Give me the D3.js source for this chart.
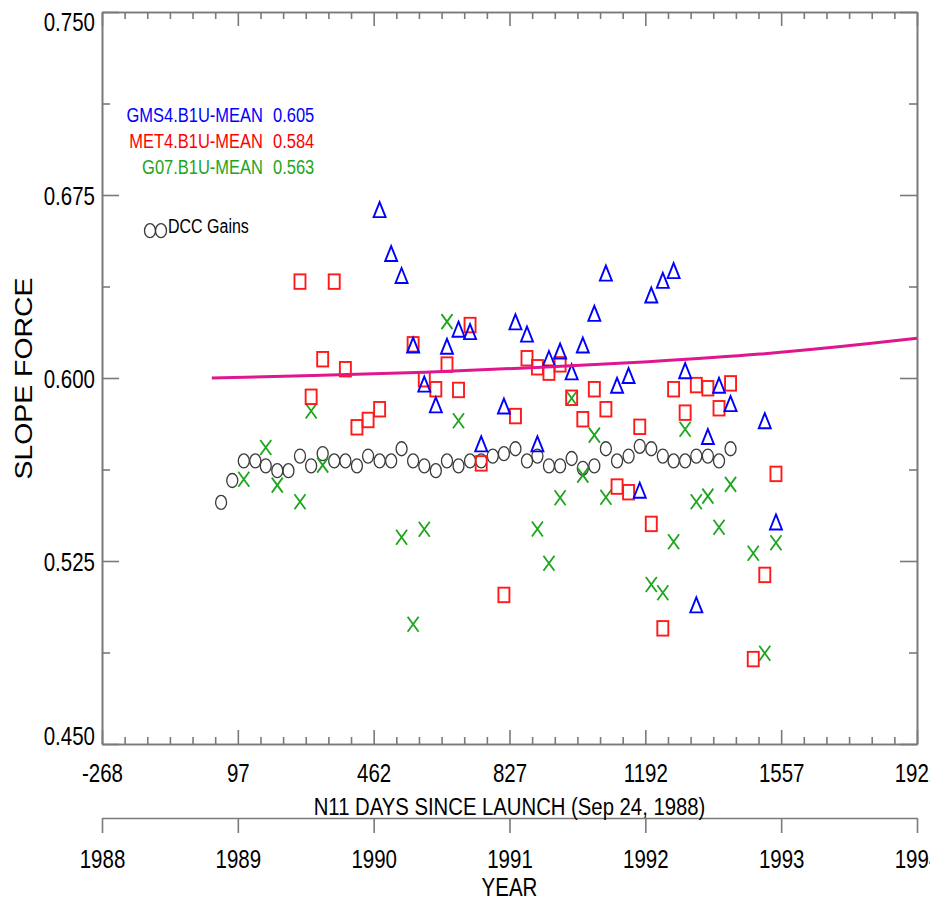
<!DOCTYPE html>
<html>
<head>
<meta charset="utf-8">
<script src="https://cdn.jsdelivr.net/npm/d3@7"></script>
<style>
  html, body { margin: 0; padding: 0; background: #fff; }
  svg { display: block; font-family: "Liberation Sans", Arial, Helvetica, sans-serif; }
</style>
</head>
<body>
<svg id="chart" width="930" height="900"></svg>
<script>
// ---- Data: days since NOAA-11 launch (Sep 24, 1988) and slope values ----
const dccDays = [52,82,113,144,172,203,233,264,294,325,356,386,417,447,478,509,537,568,598,629,
  659,690,721,751,782,812,843,874,902,933,963,994,1024,1055,1086,1116,1147,1177,1208,1239,
  1268,1299,1329,1360,1390,1421];
const dccGain = [0.549,0.558,0.566,0.566,0.564,0.562,0.562,0.568,0.564,0.569,0.566,0.566,0.564,0.568,
  0.566,0.566,0.571,0.566,0.564,0.562,0.566,0.564,0.566,0.566,0.568,0.569,0.571,0.566,0.568,0.564,
  0.564,0.567,0.563,0.564,0.571,0.566,0.568,0.572,0.571,0.568,0.566,0.566,0.568,0.568,0.566,0.571];

const gmsDays = [478,509,537,568,598,629,659,690,721,751,812,843,874,902,933,963,994,1024,1055,1086,
  1116,1147,1177,1208,1239,1268,1299,1329,1360,1390,1421,1513,1543];
const gmsSlope = [0.669,0.651,0.642,0.6135,0.5975,0.589,0.613,0.620,0.619,0.573,0.5885,0.623,0.618,
  0.573,0.608,0.611,0.6025,0.6135,0.6265,0.643,0.597,0.601,0.554,0.634,0.640,0.644,0.603,0.507,
  0.576,0.597,0.5895,0.5825,0.541];

const metDays = [264,294,325,356,386,417,447,478,568,598,629,659,690,721,751,812,843,874,902,933,
  963,994,1024,1055,1086,1116,1147,1177,1208,1239,1268,1299,1329,1360,1390,1421,1482,1513,1543];
const metSlope = [0.6395,0.5923,0.6077,0.6395,0.6036,0.5798,0.5828,0.5872,0.6138,0.5995,0.5954,
  0.6055,0.5951,0.6217,0.5650,0.5111,0.5844,0.6081,0.6044,0.6022,0.6056,0.5919,0.5831,0.5954,
  0.5872,0.5555,0.5532,0.5800,0.5402,0.4974,0.5954,0.5858,0.5971,0.5958,0.5876,0.5978,0.4848,
  0.5193,0.5607];

const g07Days = [113,172,203,264,294,325,537,568,598,659,690,902,933,963,994,1024,1055,1086,1208,
  1239,1268,1299,1329,1360,1390,1421,1482,1513,1543];
const g07Slope = [0.5585,0.5715,0.5561,0.5493,0.5865,0.5643,0.5347,0.4991,0.5380,0.6231,0.5825,
  0.5381,0.5241,0.5509,0.5917,0.5602,0.5766,0.5511,0.5154,0.5120,0.5329,0.5790,0.5493,0.5516,
  0.5388,0.5564,0.5282,0.4872,0.5325];

// Trend curve read at a few days
const trendDays = [27,300,600,900,1200,1500,1800,1922];
const trendSlope = [0.6000,0.6010,0.6024,0.6043,0.6067,0.6098,0.6142,0.6163];

// Axis ticks and labels
const dayTicks = [-268,97,462,827,1192,1557,1922];
const yearLabels = ["1988","1989","1990","1991","1992","1993","1994"];
const slopeTicks = [0.450,0.525,0.600,0.675,0.750];
const slopeMinor = [0.4875,0.5625,0.6375,0.7125];

const legendNames = ["GMS4.B1U-MEAN","MET4.B1U-MEAN","G07.B1U-MEAN"];
const legendMeans = ["0.605","0.584","0.563"];
const legendColors = ["#0000ff","#ff0000","#1ea51e"];

// ---- Layout ----
const svg = d3.select("#chart");
const L = 102, R = 917, T = 12, B = 744;
const K = 1.22;              // vertical stretch of lettering
const axisColor = "#7a7a7a";

const x = d3.scaleLinear().domain([-268, 1922]).range([L, R]);
const y = d3.scaleLinear().domain([0.45, 0.75]).range([B, T]);

const minorDays = d3.range(0, 37).map(i => -268 + i * 365 / 6).filter((d, i) => i % 6 !== 0);

function styleAxis(g) {
  g.selectAll("path.domain").attr("stroke", axisColor).attr("stroke-width", 1.6);
  g.selectAll(".tick line").attr("stroke", axisColor).attr("stroke-width", 1.6);
}

// text with tall, condensed look
function tallText(parent, px, py, str, size, anchor, color) {
  return parent.append("text")
    .attr("transform", `translate(${px},${py}) scale(1,${K})`)
    .attr("font-size", size)
    .attr("text-anchor", anchor)
    .attr("fill", color || "#000")
    .text(str);
}

// ---- Frame axes ----
// bottom: days since launch (plain hyphen for negatives)
const gBottom = svg.append("g").attr("transform", `translate(0,${B})`)
  .call(d3.axisBottom(x).tickValues(dayTicks).tickSizeInner(-14).tickSizeOuter(0).tickFormat(d => String(d)));
svg.append("g").attr("transform", `translate(0,${B})`)
  .call(d3.axisBottom(x).tickValues(minorDays).tickSizeInner(-7).tickSizeOuter(0).tickFormat(""))
  .call(styleAxis);
gBottom.call(styleAxis);
gBottom.selectAll(".tick text")
  .attr("y", null).attr("dy", null)
  .attr("transform", `translate(0,37.5) scale(1,${K})`)
  .attr("font-size", 20.5).attr("fill", "#000")
  .attr("font-family", "Liberation Sans, Arial, sans-serif");

// top
svg.append("g").attr("transform", `translate(0,${T})`)
  .call(d3.axisTop(x).tickValues(dayTicks).tickSizeInner(-14).tickSizeOuter(0).tickFormat(""))
  .call(styleAxis);
svg.append("g").attr("transform", `translate(0,${T})`)
  .call(d3.axisTop(x).tickValues(minorDays).tickSizeInner(-7).tickSizeOuter(0).tickFormat(""))
  .call(styleAxis);

// left
const gLeft = svg.append("g").attr("transform", `translate(${L},0)`)
  .call(d3.axisLeft(y).tickValues(slopeTicks).tickSizeInner(-17).tickSizeOuter(0).tickFormat(d3.format(".3f")));
svg.append("g").attr("transform", `translate(${L},0)`)
  .call(d3.axisLeft(y).tickValues(slopeMinor).tickSizeInner(-8).tickSizeOuter(0).tickFormat(""))
  .call(styleAxis);
gLeft.call(styleAxis);
gLeft.selectAll(".tick text")
  .attr("x", null).attr("dy", null)
  .attr("transform", d => {
    const off = d >= 0.75 ? 18 : (d <= 0.45 ? 0.5 : 9.5);
    return `translate(-7,${off}) scale(1,${K})`;
  })
  .attr("font-size", 20.5).attr("fill", "#000")
  .attr("font-family", "Liberation Sans, Arial, sans-serif");

// right
svg.append("g").attr("transform", `translate(${R},0)`)
  .call(d3.axisRight(y).tickValues(slopeTicks).tickSizeInner(-17).tickSizeOuter(0).tickFormat(""))
  .call(styleAxis);
svg.append("g").attr("transform", `translate(${R},0)`)
  .call(d3.axisRight(y).tickValues(slopeMinor).tickSizeInner(-8).tickSizeOuter(0).tickFormat(""))
  .call(styleAxis);

// year axis below
const gYear = svg.append("g").attr("transform", "translate(0,818)")
  .call(d3.axisBottom(x).tickValues(dayTicks).tickSizeInner(15).tickSizeOuter(0)
    .tickFormat((d, i) => yearLabels[i]));
gYear.call(styleAxis);
gYear.selectAll(".tick text")
  .attr("y", null).attr("dy", null)
  .attr("transform", `translate(0,50) scale(1,${K})`)
  .attr("font-size", 20.5).attr("fill", "#000")
  .attr("font-family", "Liberation Sans, Arial, sans-serif");

// axis titles
tallText(svg, (L + R) / 2, 815, "N11 DAYS SINCE LAUNCH (Sep 24, 1988)", 20.3, "middle");
tallText(svg, (L + R) / 2, 896, "YEAR", 20.5, "middle");
svg.append("text")
  .attr("transform", `translate(32,378.5) rotate(-90) scale(${K},1)`)
  .attr("font-size", 23.3)
  .attr("text-anchor", "middle")
  .attr("fill", "#000")
  .text("SLOPE FORCE");

// ---- Marks ----
const plot = svg.append("g");

// DCC gains: open circles
plot.append("g").selectAll("ellipse")
  .data(dccDays.map((d, i) => [d, dccGain[i]]))
  .join("ellipse")
  .attr("cx", d => x(d[0])).attr("cy", d => y(d[1]))
  .attr("rx", 5.5).attr("ry", 7)
  .attr("fill", "none").attr("stroke", "#3a3a3a").attr("stroke-width", 1.3);

// G07: green crosses
plot.append("g").selectAll("path")
  .data(g07Days.map((d, i) => [d, g07Slope[i]]))
  .join("path")
  .attr("transform", d => `translate(${x(d[0])},${y(d[1])})`)
  .attr("d", "M-5.5,-7.5L5.5,7.5M5.5,-7.5L-5.5,7.5")
  .attr("fill", "none").attr("stroke", "#1ea51e").attr("stroke-width", 1.8);

// MET4: red squares
plot.append("g").selectAll("rect")
  .data(metDays.map((d, i) => [d, metSlope[i]]))
  .join("rect")
  .attr("x", d => x(d[0]) - 5.5).attr("y", d => y(d[1]) - 7.25)
  .attr("width", 11).attr("height", 14.5)
  .attr("fill", "none").attr("stroke", "#ff1a1a").attr("stroke-width", 1.9);

// GMS4: blue triangles
plot.append("g").selectAll("path")
  .data(gmsDays.map((d, i) => [d, gmsSlope[i]]))
  .join("path")
  .attr("transform", d => `translate(${x(d[0])},${y(d[1])})`)
  .attr("d", "M0,-7.5L6,7.5L-6,7.5Z")
  .attr("fill", "none").attr("stroke", "#0000ff").attr("stroke-width", 1.9)
  .attr("stroke-linejoin", "miter");

// trend curve
plot.append("path")
  .datum(trendDays.map((d, i) => [d, trendSlope[i]]))
  .attr("d", d3.line().x(d => x(d[0])).y(d => y(d[1])).curve(d3.curveMonotoneX))
  .attr("fill", "none").attr("stroke", "#e0168e").attr("stroke-width", 3);

// ---- Legend ----
const legend = svg.append("g");
legendNames.forEach((name, i) => {
  const by = 122 + i * 26;
  tallText(legend, 263, by, name, 16.5, "end", legendColors[i]);
  tallText(legend, 273, by, legendMeans[i], 16.5, "start", legendColors[i]);
});
[150, 161].forEach(cx => {
  legend.append("ellipse").attr("cx", cx).attr("cy", 230.7).attr("rx", 5.5).attr("ry", 7)
    .attr("fill", "none").attr("stroke", "#3a3a3a").attr("stroke-width", 1.3);
});
tallText(legend, 168, 233, "DCC Gains", 16, "start");
</script>
</body>
</html>
